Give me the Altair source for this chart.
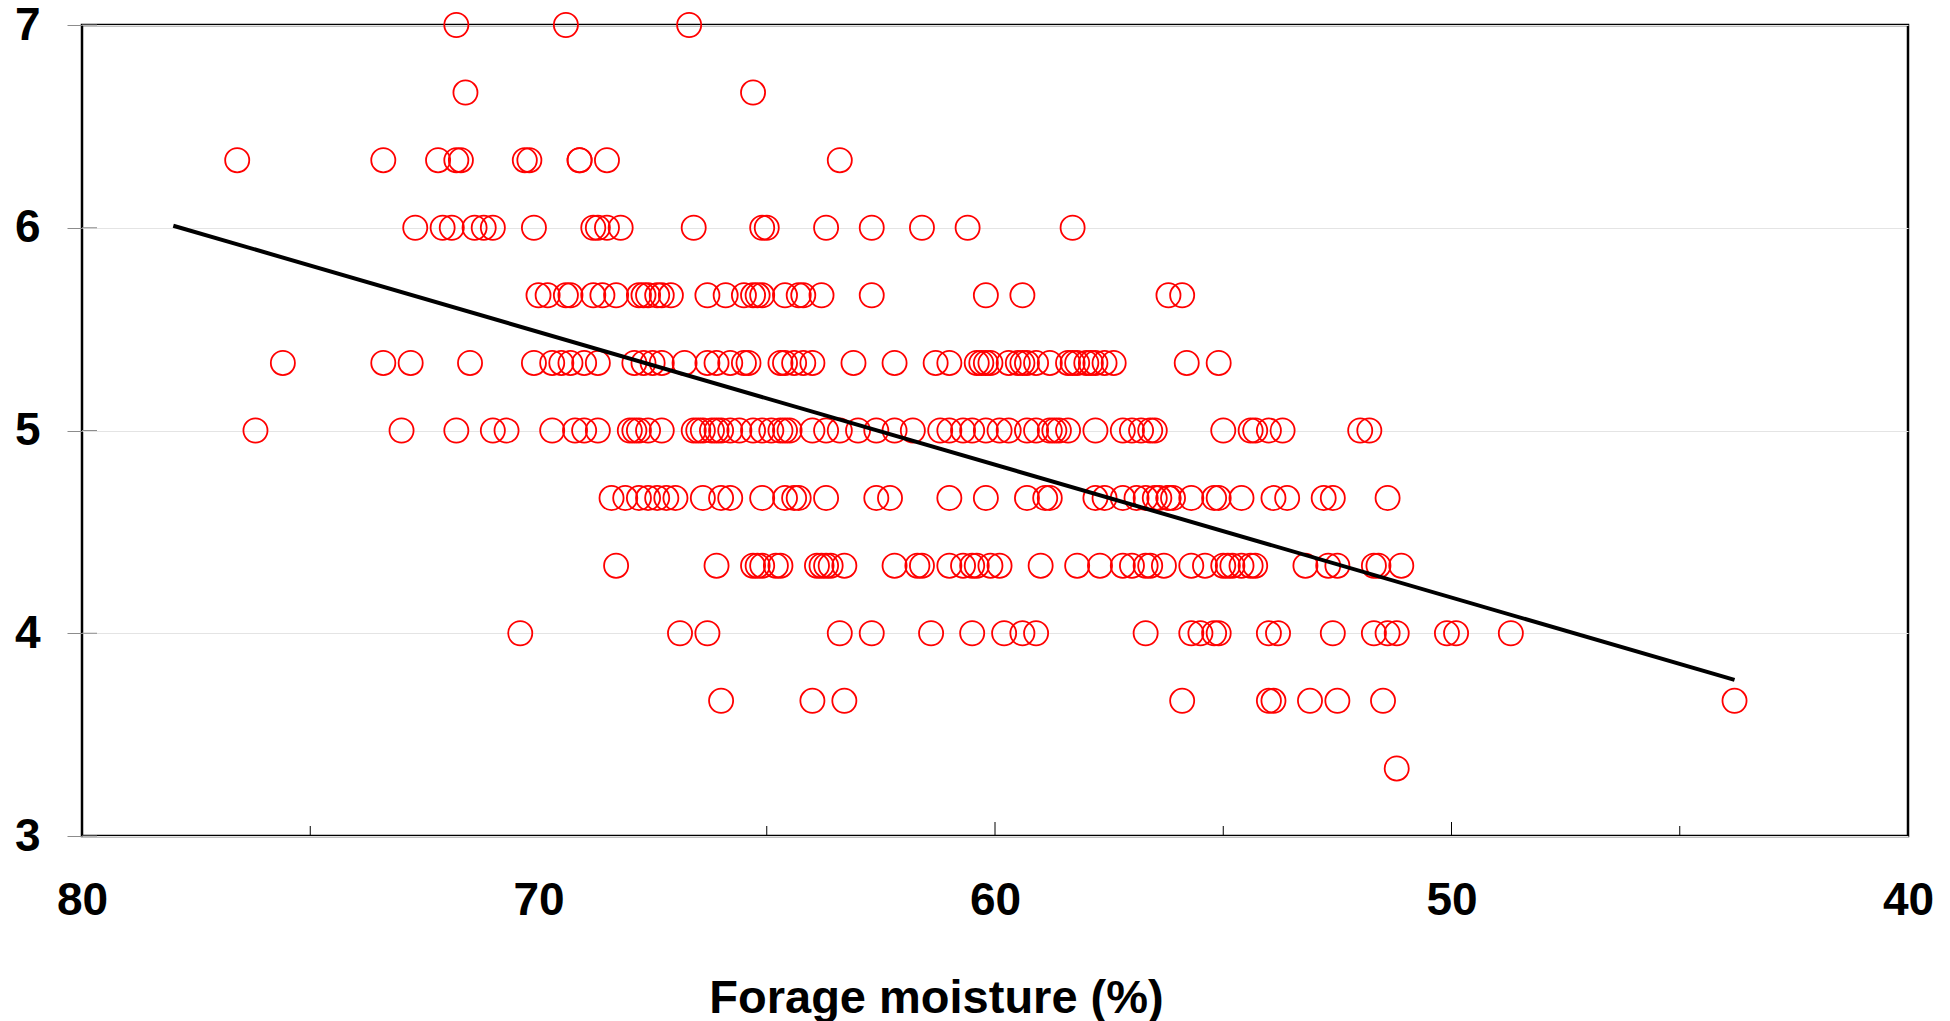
import altair as alt
import pandas as pd

# Forage moisture (%) values of the points, grouped by their y value
row_7_00 = [71.8, 69.4, 66.7]
row_6_67 = [71.6, 65.3]
row_6_33 = [76.6, 73.4, 72.2, 71.8, 71.7, 70.3, 70.2, 69.1, 69.1, 68.5, 63.4]
row_6_00 = [72.7, 72.1, 71.9, 71.4, 71.2, 71.0, 70.1, 68.8, 68.7, 68.5, 68.2,
            66.6, 65.1, 65.0, 63.7, 62.7, 61.6, 60.6, 58.3]
row_5_67 = [70.0, 69.8, 69.4, 69.3, 68.8, 68.6, 68.3, 67.8, 67.7, 67.6, 67.4,
            67.3, 67.1, 66.3, 65.9, 65.5, 65.3, 65.2, 65.1, 64.6, 64.3, 64.2,
            63.8, 62.7, 60.2, 59.4, 56.2, 55.9]
row_5_33 = [75.6, 73.4, 72.8, 71.5, 70.1, 69.7, 69.5, 69.3, 69.0, 68.7, 67.9,
            67.7, 67.5, 67.3, 66.8, 66.3, 66.1, 65.8, 65.5, 65.4, 64.7, 64.6,
            64.4, 64.2, 64.0, 63.1, 62.2, 61.3, 61.0, 60.4, 60.3, 60.2, 60.1,
            59.7, 59.5, 59.4, 59.3, 59.1, 58.8, 58.4, 58.3, 58.2, 58.0, 57.9,
            57.8, 57.6, 57.4, 55.8, 55.1]
row_5_00 = [76.2, 73.0, 71.8, 71.0, 70.7, 69.7, 69.2, 69.0, 68.7, 68.0, 67.9,
            67.8, 67.6, 67.3, 66.6, 66.5, 66.4, 66.2, 66.1, 66.0, 65.8, 65.6,
            65.3, 65.1, 64.9, 64.7, 64.6, 64.5, 64.0, 63.7, 63.4, 63.0, 62.6,
            62.2, 61.8, 61.2, 61.0, 60.7, 60.5, 60.2, 59.9, 59.7, 59.3, 59.1,
            58.8, 58.7, 58.6, 58.4, 57.8, 57.2, 57.0, 56.8, 56.6, 56.5, 55.0,
            54.4, 54.3, 54.0, 53.7, 52.0, 51.8]
row_4_67 = [68.4, 68.1, 67.8, 67.6, 67.4, 67.2, 67.0, 66.4, 66.0, 65.8, 65.1,
            64.6, 64.4, 64.3, 63.7, 62.6, 62.3, 61.0, 60.2, 59.3, 58.9, 58.8,
            57.8, 57.6, 57.2, 56.9, 56.7, 56.5, 56.4, 56.2, 56.2, 56.1, 55.7,
            55.2, 55.1, 54.6, 53.9, 53.6, 52.8, 52.6, 51.4]
row_4_33 = [68.3, 66.1, 65.3, 65.2, 65.1, 64.8, 64.7, 63.9, 63.8, 63.7, 63.6,
            63.3, 62.2, 61.7, 61.6, 61.0, 60.7, 60.5, 60.4, 60.1, 59.9, 59.0,
            58.2, 57.7, 57.2, 57.0, 56.7, 56.6, 56.3, 55.7, 55.4, 55.0, 54.9,
            54.8, 54.6, 54.4, 54.3, 53.2, 52.7, 52.5, 51.7, 51.6, 51.1]
row_4_00 = [70.4, 66.9, 66.3, 63.4, 62.7, 61.4, 60.5, 59.8, 59.4, 59.1, 56.7,
            55.7, 55.5, 55.2, 55.1, 54.0, 53.8, 52.6, 51.7, 51.4, 51.2, 50.1,
            49.9, 48.7]
row_3_67 = [66.0, 64.0, 63.3, 55.9, 54.0, 53.9, 53.1, 52.5, 51.5, 43.8]
row_3_33 = [51.2]

rows = {
    7.0: row_7_00, 6.667: row_6_67, 6.333: row_6_33, 6.0: row_6_00,
    5.667: row_5_67, 5.333: row_5_33, 5.0: row_5_00, 4.667: row_4_67,
    4.333: row_4_33, 4.0: row_4_00, 3.667: row_3_67, 3.333: row_3_33,
}

# regression line end points
fit_x = [78.0, 43.8]
fit_y = [6.01, 3.77]

# axis values
x_ticks_major = [60, 50]
x_ticks_minor = [75, 65, 55, 45]
x_labels = [80, 70, 60, 50, 40]
y_labels = [3, 4, 5, 6, 7]

W, H = 1826, 811
FONT = "Liberation Sans"

pts = pd.DataFrame(
    [{"m": x, "s": y} for y, xs in rows.items() for x in xs]
)
fit = pd.DataFrame({"m": fit_x, "s": fit_y})

xscale = alt.Scale(domain=[80, 40], nice=False, zero=False)
yscale = alt.Scale(domain=[3, 7], nice=False, zero=False)

xaxis = alt.Axis(
    values=x_labels, format="d", title="Forage moisture (%)", grid=False,
    ticks=False, domain=False, labelFont=FONT, labelFontSize=46,
    labelFontWeight="bold", labelColor="black", labelPadding=42,
    labelFlush=False, titleFont=FONT, titleFontSize=47,
    titleFontWeight="bold", titleColor="black", titleX=854, titleY=176,
    titleAlign="center", titleBaseline="alphabetic",
)
yaxis = alt.Axis(
    values=y_labels, format="d", title=None, grid=True, gridColor="#e4e4e4",
    gridWidth=1, ticks=True, tickSize=15, tickColor="#8c8c8c", tickWidth=1,
    domain=False, labelFont=FONT, labelFontSize=46, labelFontWeight="bold",
    labelColor="black", labelPadding=27, labelFlush=False,
)

points = alt.Chart(pts).mark_point(
    shape="circle", filled=False, color="#ff0000", size=580,
    strokeWidth=1.8, opacity=1,
).encode(
    x=alt.X("m:Q", scale=xscale, axis=xaxis),
    y=alt.Y("s:Q", scale=yscale, axis=yaxis),
)

line = alt.Chart(fit).mark_line(color="black", strokeWidth=4).encode(
    x=alt.X("m:Q", scale=xscale), y=alt.Y("s:Q", scale=yscale)
)

major = alt.Chart(pd.DataFrame({"t": x_ticks_major})).mark_rule(
    color="black", strokeWidth=1
).encode(x=alt.X("t:Q", scale=xscale), y=alt.value(H), y2=alt.value(H - 14))

minor = alt.Chart(pd.DataFrame({"t": x_ticks_minor})).mark_rule(
    color="black", strokeWidth=1
).encode(x=alt.X("t:Q", scale=xscale), y=alt.value(H), y2=alt.value(H - 10))

ytick_in = alt.Chart(pd.DataFrame({"v": y_labels})).mark_rule(
    color="#8c8c8c", strokeWidth=1
).encode(y=alt.Y("v:Q", scale=yscale), x=alt.value(0), x2=alt.value(15))

chart = alt.layer(ytick_in, points, line, major, minor).properties(
    width=W, height=H,
    autosize=alt.AutoSizeParams(type="none"),
    padding={"left": 82, "top": 25, "right": 42, "bottom": 185},
    background="white",
).configure_view(stroke="black", strokeWidth=2.5)

chart.save("out.html", embed_options={"renderer": "svg", "actions": False})
